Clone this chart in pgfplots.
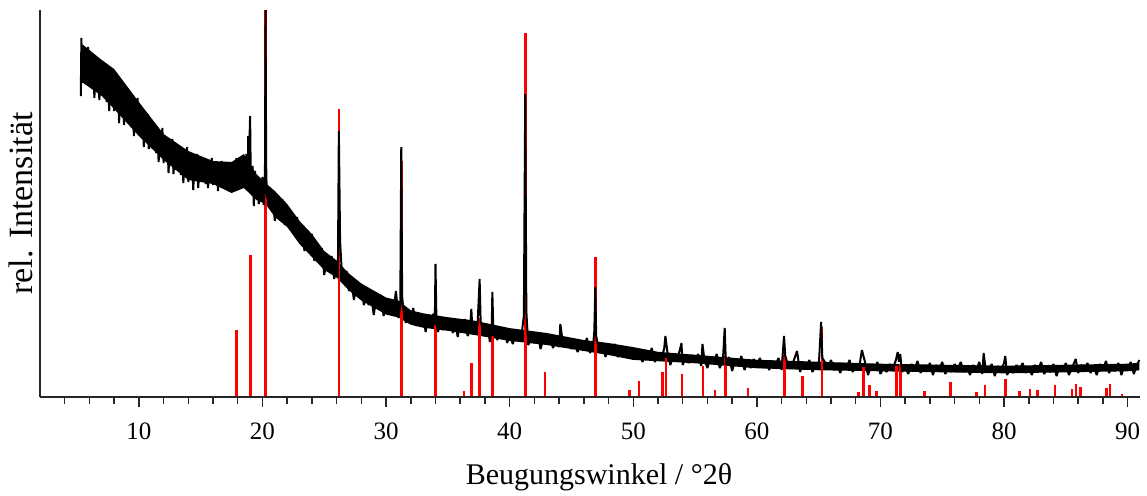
\documentclass[border=0pt]{standalone}
\usepackage{fontspec}
\setmainfont{Liberation Serif}
\usepackage{pgfplots}
\usepackage{pgfplotstable}
\pgfplotsset{compat=1.18}

\pgfplotstableread{
x y
17.88 66
19.04 141
20.25 386
26.18 287
31.23 235
34.00 71
36.30 5
36.90 33
37.57 78
38.60 60
41.26 363
42.85 24
46.93 139
49.70 6
50.45 15
52.35 24
52.64 38
53.93 22
55.63 30
56.63 6
57.44 40
59.30 8
62.26 41
63.67 20
65.26 69
68.22 4
68.63 29
69.11 11
69.70 5
71.32 30
71.62 32
73.56 5
75.67 14
77.77 4
78.45 11
80.12 17
81.23 5
82.09 7
82.71 6
84.11 11
85.49 7
85.81 12
86.19 9
88.27 8
88.56 12
89.56 2
}\refdata

% dense core of the noise band of the measured pattern: upper edge left to right, lower edge right to left
\pgfplotstableread{
x y
5.35 351
5.50 351
7.00 336
8.00 327
10.00 294
12.00 262
14.00 245
16.00 235
17.50 234
18.50 242
19.50 222
20.25 213
21.00 205
22.00 192
23.00 175
24.00 162
25.00 145
26.00 135.5
27.00 122.5
28.00 112.5
29.00 105.5
30.00 98.5
31.00 95.5
32.00 85.7
33.00 82.7
35.00 78.8
37.00 75.7
40.00 67.9
43.00 63
46.00 56
48.00 53
50.00 48.9
52.00 44.2
55.00 41.25
58.00 38.25
60.00 36.25
65.00 34.25
70.00 32.3
75.00 31.3
80.00 30.3
85.00 31.3
90.00 32.3
90.95 33.3
90.95 25.7
90.00 24.7
85.00 23.7
80.00 22.7
75.00 23.7
70.00 24.7
65.00 25.75
60.00 27.75
58.00 29.75
55.00 32.75
52.00 34.8
50.00 36.1
48.00 41
46.00 45
43.00 51
40.00 55.1
37.00 61.3
35.00 65.2
33.00 68.3
32.00 71.3
31.00 78.5
30.00 81.5
29.00 88.5
28.00 95.5
27.00 105.5
26.00 118.5
25.00 126
24.00 139
23.00 152
22.00 169
21.00 179
20.25 192
19.50 196
18.50 208
17.50 203
16.00 212
14.00 216
12.00 236
10.00 260
8.00 287
7.00 300
5.50 313
5.35 313
}\banddata

\pgfplotstableread{
x y
5.30 300
5.35 358
5.40 325
5.50 343
5.60 314
5.70 343
5.80 326
5.90 349
6.00 310
6.10 326
6.20 313
6.30 336
6.40 298
6.50 327
6.60 310
6.70 336
6.80 296
6.90 317
7.00 301
7.10 324
7.20 308
7.30 326
7.40 294
7.50 313
7.60 285
7.70 314
7.80 298
7.90 323
8.00 285
8.10 301
8.20 288
8.30 311
8.40 273
8.50 302
8.60 285
8.70 311
8.80 271
8.90 292
9.00 276
9.10 299
9.20 283
9.30 301
9.40 269
9.50 288
9.60 260
9.70 290
9.80 273
9.90 298
10.00 261
10.10 275
10.20 264
10.30 284
10.40 249
10.50 275
10.60 260
10.70 282
10.80 247
10.90 265
11.00 250
11.10 271
11.20 255
11.30 272
11.40 243
11.50 259
11.60 234
11.70 261
11.80 245
11.90 268
12.00 233
12.10 248
12.20 237
12.30 258
12.40 223
12.50 249
12.60 234
12.70 257
12.80 222
12.90 241
13.00 226
13.10 247
13.20 232
13.30 250
13.40 221
13.50 238
13.60 213
13.70 240
13.80 226
13.90 249
14.00 214
14.10 229
14.20 219
14.30 240
14.40 206
14.50 233
14.60 219
14.70 242
14.80 208
14.90 227
15.00 215
15.10 233
15.20 221
15.30 236
15.40 212
15.50 227
15.60 208
15.70 230
15.80 219
15.90 238
16.00 211
16.10 224
16.20 216
16.30 232
16.40 205
16.50 227
16.60 216
16.70 235
16.80 208
16.90 224
17.00 213
17.10 231
17.20 219
17.30 234
17.40 211
17.50 226
17.60 207
17.70 229
17.80 218
17.90 238
18.00 211
18.10 225
18.20 218
18.30 236
18.40 210
18.50 234
18.60 223
18.70 242
18.80 215
18.85 260
18.90 231
19.00 280
19.05 222
19.10 216
19.20 230
19.30 190
19.40 225
19.50 198
19.60 212
19.70 192
19.80 213
19.90 201
20.00 219
20.10 191
20.20 215
20.25 386
20.30 230
20.35 200
20.40 198
20.60 188
20.80 202
21.00 175
21.20 193
21.40 181
21.60 197
21.80 171
22.00 183
22.20 170
22.40 182
22.60 170
22.80 179
23.00 157
23.20 166
23.40 145
23.60 162
23.80 148
24.00 162
24.20 135
24.40 144
24.60 134
24.80 148
25.00 121
25.20 138
25.40 127
25.60 140
25.80 117
26.00 127
26.10 118
26.18 265
26.28 155
26.40 128
26.60 117
26.80 125
27.00 105
27.20 114
27.40 96
27.60 111
27.80 100
28.00 112
28.20 91
28.40 98
28.60 91
28.80 102
29.00 81
29.20 97
29.40 87
29.60 101
29.80 80
30.00 91
30.20 83
30.40 93
30.60 85
30.80 105
31.00 78
31.15 90
31.23 249
31.30 100
31.40 86
31.60 73
31.80 85
32.00 77
32.20 88
32.40 70
32.60 78
32.80 72
33.00 82
33.20 64
33.40 78
33.60 70
33.80 82
33.95 80
34.00 132
34.08 72
34.20 64
34.40 73
34.60 66
34.80 76
35.00 69
35.20 78
35.40 63
35.60 72
35.80 59
36.00 73
36.20 66
36.40 77
36.60 60
36.80 67
36.90 87
37.00 62
37.20 72
37.40 70
37.57 117
37.65 75
37.80 68
38.00 60
38.20 72
38.40 54
38.55 68
38.60 104
38.68 66
38.80 63
39.00 56
39.20 67
39.40 59
39.60 68
39.80 53
40.00 62
40.25 52
40.50 62
40.75 56
41.00 65
41.15 80
41.26 302
41.35 85
41.50 51
41.75 57
42.00 53
42.25 62
42.50 47
42.75 58
43.00 53
43.25 61
43.50 48
43.75 55
44.00 49
44.10 72
44.25 58
44.50 51
44.75 58
45.00 47
45.25 53
45.50 44
45.75 54
46.00 48
46.25 58
46.50 43
46.75 50
46.85 65
46.93 109
47.00 60
47.25 45
47.50 53
47.75 39
48.00 49
48.25 44
48.50 52
48.75 39
49.00 46
49.25 39
49.50 48
49.75 41
50.00 48
50.25 37
50.50 44
50.75 34
51.00 45
51.25 39
51.50 48
51.75 34
52.00 41
52.25 37
52.50 47
52.60 60
52.75 45
53.00 31
53.25 41
53.50 36
53.75 45
53.90 53
54.00 31
54.25 39
54.50 33
54.75 41
55.00 35
55.25 42
55.50 30
55.60 52
55.75 37
56.00 28
56.25 39
56.50 32
56.75 42
57.00 28
57.25 35
57.40 68
57.50 31
57.75 39
58.00 25
58.25 36
58.50 31
58.75 40
59.00 26
59.25 34
59.50 28
59.75 37
60.00 31
60.25 38
60.50 28
60.75 34
61.00 26
61.25 35
61.50 30
61.75 38
62.00 26
62.20 60
62.30 40
62.50 32
62.75 28
63.00 36
63.25 45
63.50 24
63.75 34
64.00 28
64.25 36
64.50 24
64.75 31
65.00 27
65.20 74
65.30 38
65.50 34
65.75 29
66.00 36
66.25 26
66.50 31
66.75 23
67.00 33
67.25 28
67.50 36
67.75 24
68.00 30
68.25 26
68.50 46
68.75 34
69.00 21
69.25 31
69.50 26
69.75 34
70.00 22
70.25 29
70.50 24
70.75 32
71.00 27
71.25 36
71.40 44
71.50 34
71.60 42
71.75 24
72.00 30
72.25 22
72.50 32
72.75 27
73.00 35
73.25 23
73.50 29
73.75 25
74.00 33
74.25 21
74.50 31
74.75 26
75.00 34
75.25 22
75.50 29
75.75 24
76.00 32
76.25 27
76.50 34
76.75 24
77.00 29
77.25 21
77.50 31
77.75 26
78.00 34
78.25 22
78.35 43
78.50 28
78.75 24
79.00 32
79.25 20
79.50 30
79.75 25
80.00 33
80.10 40
80.25 21
80.50 28
80.75 23
81.00 31
81.25 26
81.50 33
81.75 23
82.00 29
82.25 21
82.50 31
82.75 26
83.00 34
83.25 22
83.50 28
83.75 24
84.00 32
84.25 20
84.50 30
84.75 25
85.00 33
85.25 21
85.50 28
85.80 37
86.00 23
86.25 31
86.50 26
86.75 33
87.00 23
87.25 29
87.50 21
87.75 32
88.00 27
88.25 35
88.50 23
88.75 29
89.00 25
89.25 33
89.50 21
89.75 31
90.00 26
90.25 34
90.50 22
90.75 31
90.95 36
}\measdata

\begin{document}
\begin{tikzpicture}
\useasboundingbox (-20pt,-49pt) rectangle (553.5pt,198.5pt);
\begin{axis}[
  scale only axis,
  width=550pt, height=193.5pt,
  xmin=2, xmax=91, ymin=-1, ymax=386,
  axis x line*=bottom, axis y line*=left,
  axis line style={line width=0.75pt, color=black!85},
  ytick=\empty,
  xtick={10,20,...,90},
  minor xtick={4,6,...,90},
  tick align=outside,
  major tick length=5pt, minor tick length=3.5pt,
  every tick/.style={line width=0.75pt, color=black!85},
  tick label style={font=\fontsize{12.5}{14}\selectfont},
  xticklabel style={yshift=-4.5pt},
  /pgf/number format/assume math mode=true,
  xlabel={Beugungswinkel / °2θ},
  ylabel={rel. Intensität},
  xlabel style={at={(axis description cs:0.5,0)}, anchor=base, yshift=-43.5pt, xshift=4.5pt, font=\fontsize{15}{18}\selectfont},
  ylabel style={at={(axis description cs:0,0.5)}, anchor=south, yshift=0pt, font=\fontsize{17}{20}\selectfont},
  clip=false,
]
\addplot[fill=black, draw=none, forget plot] table[x=x, y=y] {\banddata};
\addplot[ycomb, color=red, line width=1.3pt] table[x=x, y=y] {\refdata};
\addplot[black, line width=1.0pt, line join=bevel] table[x=x, y=y] {\measdata};
\end{axis}
\end{tikzpicture}
\end{document}
